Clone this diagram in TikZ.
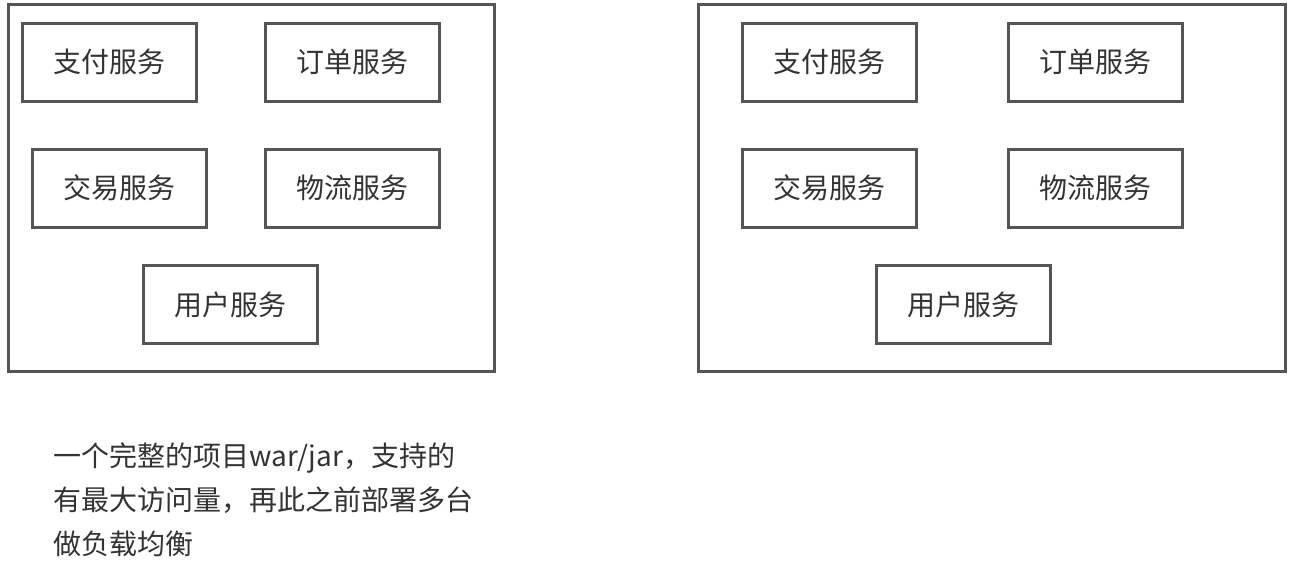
\documentclass[tikz,border=0pt]{standalone}
\usepackage{fontspec}
\setmainfont{Noto Sans CJK SC}
\definecolor{boxline}{HTML}{555555}
\definecolor{txt}{HTML}{333333}
\tikzset{
  svc/.style={draw=boxline, line width=1.5pt, minimum width=87pt, minimum height=39pt,
    inner sep=0pt, text=txt, font=\fontsize{14pt}{16pt}\selectfont},
  outerbox/.style={draw=boxline, line width=1.5pt, inner sep=0pt},
}
\begin{document}
\begin{tikzpicture}[x=0.5pt,y=-0.5pt]
\useasboundingbox (0,0) rectangle (1294,585);
% left group
\node[outerbox, minimum width=243pt, minimum height=183.5pt] (L) at (251,187.5) {};
\node[svc] (L1) at (109,62) {支付服务};
\node[svc] (L2) at (352,62) {订单服务};
\node[svc] (L3) at (119.5,188) {交易服务};
\node[svc] (L4) at (352,188) {物流服务};
\node[svc] (L5) at (230,304.5) {用户服务};
% right group
\node[outerbox, minimum width=293.5pt, minimum height=183.5pt] (R) at (991.5,187.5) {};
\node[svc] (R1) at (829,62) {支付服务};
\node[svc] (R2) at (1095.5,62) {订单服务};
\node[svc] (R3) at (829,188) {交易服务};
\node[svc] (R4) at (1095.5,188) {物流服务};
\node[svc] (R5) at (963.5,304.5) {用户服务};
% note
\node[anchor=north west, inner sep=0pt, align=left, text=txt,
  font=\fontsize{14pt}{22pt}\selectfont] (note) at (53,442)
  {一个完整的项目war/jar，支持的\\有最大访问量，再此之前部署多台\\做负载均衡};
\end{tikzpicture}
\end{document}
